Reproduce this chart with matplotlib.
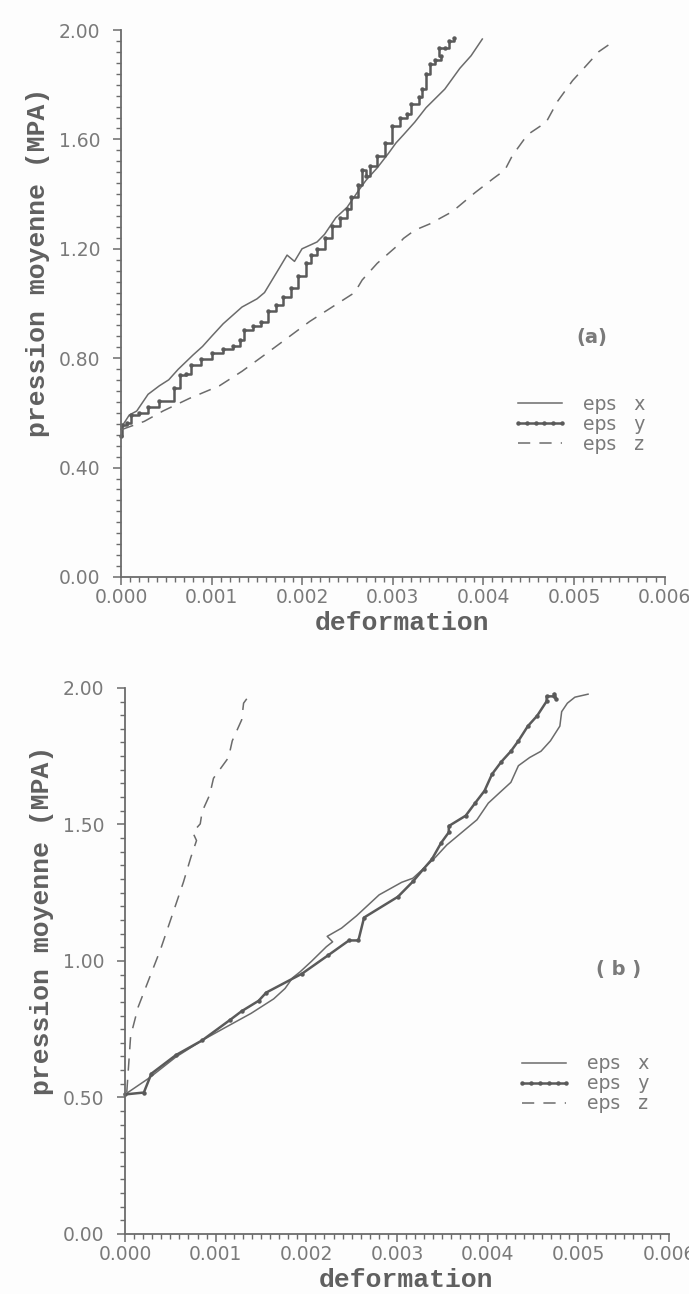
import matplotlib
matplotlib.use("Agg")
import matplotlib.pyplot as plt
from matplotlib.ticker import MultipleLocator, FormatStrFormatter

# ---- panel (a) ----
a_x_def = [0.0, 0.000017, 0.000091, 0.000174, 0.000299, 0.000423, 0.000527, 0.000630,
           0.000796, 0.000900, 0.001003, 0.001128, 0.001335, 0.001501, 0.001584, 0.001750,
           0.001833, 0.001915, 0.001998, 0.002164, 0.002247, 0.002372, 0.002496, 0.002620,
           0.002703, 0.002828, 0.002952, 0.003035, 0.003118, 0.003242, 0.003367, 0.003574,
           0.003740, 0.003864, 0.003988]
a_x_p = [0.54, 0.554, 0.592, 0.607, 0.668, 0.699, 0.721, 0.759,
         0.812, 0.843, 0.881, 0.926, 0.987, 1.017, 1.040, 1.131,
         1.177, 1.154, 1.200, 1.225, 1.253, 1.314, 1.352, 1.412,
         1.450, 1.496, 1.549, 1.587, 1.617, 1.663, 1.716, 1.784,
         1.860, 1.906, 1.967]

a_y_def = [0.0, 0.000008, 0.000071, 0.000112, 0.000195, 0.000299, 0.000423, 0.000589,
           0.000651, 0.000713, 0.000775, 0.000879, 0.001003, 0.001128, 0.001231, 0.001314,
           0.001356, 0.001459, 0.001542, 0.001625, 0.001708, 0.001791, 0.001874, 0.001957,
           0.002040, 0.002102, 0.002164, 0.002247, 0.002330, 0.002413, 0.002496, 0.002537,
           0.002620, 0.002662, 0.002703, 0.002745, 0.002828, 0.002910, 0.002993, 0.003076,
           0.003159, 0.003201, 0.003284, 0.003325, 0.003367, 0.003408, 0.003470, 0.003532,
           0.003512, 0.003574, 0.003615, 0.003677]
a_y_p = [0.516, 0.554, 0.562, 0.592, 0.600, 0.623, 0.645, 0.691,
         0.737, 0.744, 0.774, 0.797, 0.820, 0.835, 0.843, 0.866,
         0.904, 0.919, 0.934, 0.972, 0.995, 1.025, 1.055, 1.101,
         1.147, 1.177, 1.200, 1.238, 1.283, 1.314, 1.344, 1.390,
         1.435, 1.488, 1.465, 1.503, 1.541, 1.587, 1.648, 1.678,
         1.693, 1.731, 1.754, 1.784, 1.838, 1.875, 1.891, 1.906,
         1.936, 1.936, 1.959, 1.970]

a_z_def = [0.000008, 0.000257, 0.000464, 0.000755, 0.001086, 0.001335, 0.001584, 0.001833,
           0.002081, 0.002330, 0.002579, 0.002662, 0.002828, 0.003035, 0.003118, 0.003242,
           0.003408, 0.003657, 0.003906, 0.004113, 0.004237, 0.004320, 0.004486, 0.004693,
           0.004818, 0.004984, 0.005108, 0.005274, 0.005440]
a_z_p = [0.539, 0.569, 0.607, 0.653, 0.699, 0.752, 0.812, 0.873,
         0.934, 0.987, 1.040, 1.086, 1.147, 1.207, 1.238, 1.268,
         1.291, 1.336, 1.405, 1.458, 1.488, 1.541, 1.617, 1.663,
         1.739, 1.815, 1.860, 1.921, 1.959]

# ---- panel (b) ----
b_x_def = [0.0, 0.000270, 0.000561, 0.000851, 0.001100, 0.001391, 0.001640, 0.001765,
           0.001848, 0.001931, 0.002055, 0.002221, 0.002290, 0.002230, 0.002388, 0.002553,
           0.002803, 0.003052, 0.003176, 0.003301, 0.003425, 0.003550, 0.003716, 0.003882,
           0.004007, 0.004131, 0.004256, 0.004339, 0.004463, 0.004588, 0.004692, 0.004796,
           0.004816, 0.004879, 0.004962, 0.005107]
b_x_p = [0.511, 0.572, 0.648, 0.709, 0.755, 0.808, 0.861, 0.899,
         0.938, 0.960, 0.998, 1.052, 1.070, 1.090, 1.120, 1.165,
         1.242, 1.288, 1.303, 1.341, 1.380, 1.425, 1.471, 1.517,
         1.578, 1.616, 1.654, 1.715, 1.745, 1.768, 1.806, 1.860,
         1.913, 1.944, 1.966, 1.977]

b_y_def = [0.0, 0.000208, 0.000291, 0.000561, 0.000851, 0.001163, 0.001287, 0.001474,
           0.001557, 0.001951, 0.002242, 0.002470, 0.002574, 0.002637, 0.003010, 0.003176,
           0.003293, 0.003384, 0.003488, 0.003571, 0.003571, 0.003758, 0.003861, 0.003965,
           0.004048, 0.004152, 0.004256, 0.004339, 0.004443, 0.004546, 0.004650, 0.004650,
           0.004733, 0.004754, 0.004733]
b_y_p = [0.511, 0.518, 0.587, 0.655, 0.709, 0.785, 0.816, 0.854,
         0.884, 0.953, 1.021, 1.075, 1.075, 1.159, 1.235, 1.291,
         1.337, 1.372, 1.433, 1.471, 1.494, 1.532, 1.578, 1.623,
         1.684, 1.730, 1.768, 1.806, 1.860, 1.898, 1.951, 1.969,
         1.969, 1.959, 1.977]

b_z_def = [0.00002, 0.000062, 0.000145, 0.000270, 0.000394, 0.000519, 0.000644, 0.000727,
           0.000789, 0.000747, 0.000830, 0.000851, 0.000934, 0.000976, 0.001142, 0.001183,
           0.001287, 0.001308, 0.001391]
b_z_p = [0.52, 0.724, 0.831, 0.938, 1.044, 1.166, 1.288, 1.380,
         1.441, 1.471, 1.502, 1.547, 1.608, 1.669, 1.745, 1.806,
         1.883, 1.944, 1.982]

y_major_a = 0.40
y_major_b = 0.50
panel_tags = ["(a)", "( b )"]
legend_names = ["eps   x", "eps   y", "eps   z"]

GREY = "#6b6b6b"
TXT = "#7a7a7a"

fig = plt.figure(figsize=(6.89, 12.94), dpi=100)
fig.patch.set_facecolor("#fdfdfd")

ax_a = fig.add_axes([0.1756, 0.5541, 0.789, 0.4227])
ax_b = fig.add_axes([0.1814, 0.0464, 0.7896, 0.4220])


def style_axis(ax, ymaj):
    ax.set_facecolor("#fdfdfd")
    ax.set_xlim(0, 0.006)
    ax.set_ylim(0, 2.0)
    for s in ["top", "right"]:
        ax.spines[s].set_visible(False)
    for s in ["left", "bottom"]:
        ax.spines[s].set_color(GREY)
        ax.spines[s].set_linewidth(1.3)
    ax.xaxis.set_major_locator(MultipleLocator(0.001))
    ax.xaxis.set_minor_locator(MultipleLocator(0.0001))
    ax.xaxis.set_major_formatter(FormatStrFormatter("%.3f"))
    ax.yaxis.set_major_locator(MultipleLocator(ymaj))
    ax.yaxis.set_minor_locator(MultipleLocator(ymaj / 10))
    ax.yaxis.set_major_formatter(FormatStrFormatter("%.2f"))
    ax.tick_params(which="major", direction="out", length=6, width=1.1, color=GREY,
                   labelcolor=TXT, labelsize=13.5)
    ax.tick_params(which="minor", direction="out", length=3.5, width=1.0, color=GREY)
    ax.tick_params(axis="x", which="major", pad=2)
    ax.tick_params(axis="y", which="major", pad=9)
    ax.text(0.517, -0.084, "deformation", transform=ax.transAxes, ha="center", va="center",
            family="Liberation Mono", fontweight="bold", fontsize=19, color="#606060")
    ax.text(-0.153, 0.575, "pression moyenne (MPA)", transform=ax.transAxes, rotation=90,
            ha="center", va="center", family="Liberation Mono", fontweight="bold",
            fontsize=19, color="#606060")


def draw_panel(ax, xd, xp, yd, yp, zd, zp, steps):
    ax.plot(xd, xp, color=GREY, lw=1.1, label=legend_names[0], clip_on=False)
    ax.plot(yd, yp, color="#5a5a5a", lw=1.8, marker="o", markersize=2.2,
            drawstyle="steps-post" if steps else "default", label=legend_names[1], clip_on=False)
    ax.plot(zd, zp, color=GREY, lw=1.1, dashes=(8, 6), label=legend_names[2], clip_on=False)


style_axis(ax_a, y_major_a)
style_axis(ax_b, y_major_b)
draw_panel(ax_a, a_x_def, a_x_p, a_y_def, a_y_p, a_z_def, a_z_p, True)
draw_panel(ax_b, b_x_def, b_x_p, b_y_def, b_y_p, b_z_def, b_z_p, False)

for ax, tag, tpos, lpos in [(ax_a, panel_tags[0], (0.866, 0.438), (0.72, 0.333)),
                            (ax_b, panel_tags[1], (0.907, 0.484), (0.72, 0.329))]:
    ax.text(tpos[0], tpos[1], tag, transform=ax.transAxes, ha="center", va="center",
            fontsize=14, fontweight="bold", color=TXT)
    leg = ax.legend(loc="upper left", bbox_to_anchor=lpos, frameon=False, fontsize=13.5,
                    handlelength=2.95, handletextpad=0.8, labelspacing=0.05,
                    numpoints=6, borderpad=0, borderaxespad=0)
    for t in leg.get_texts():
        t.set_color(TXT)

fig.savefig("out.png", dpi=100, facecolor=fig.get_facecolor())
